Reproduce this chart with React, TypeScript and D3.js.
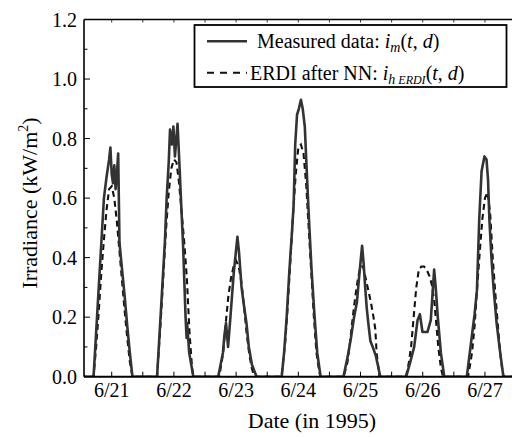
import React from "react";
import * as d3 from "d3";

const days = ["6/21", "6/22", "6/23", "6/24", "6/25", "6/26", "6/27"];
const yTickValues = [0, 0.2, 0.4, 0.6, 0.8, 1.0, 1.2];
const yMinorValues = [0.1, 0.3, 0.5, 0.7, 0.9, 1.1];

// Measured data i_m(t,d): [hour of day, kW/m2] per day
const measured: [number, number][][] = [
  [[0, 0], [5, 0], [6, 0.15], [7, 0.3], [8, 0.45], [9, 0.6], [10, 0.67], [11, 0.73], [11.5, 0.77], [12, 0.68], [12.5, 0.65], [13, 0.71], [13.5, 0.63], [14, 0.68], [14.5, 0.75], [15, 0.45], [16, 0.36], [17, 0.27], [18, 0.17], [19, 0.08], [20, 0], [24, 0]],
  [[5.5, 0], [6.5, 0.15], [7.5, 0.3], [8.5, 0.45], [9.2, 0.6], [10, 0.72], [10.5, 0.83], [11.2, 0.78], [11.8, 0.84], [12.4, 0.74], [13.4, 0.85], [14.2, 0.7], [14.7, 0.6], [15.5, 0.45], [16.1, 0.3], [16.5, 0.2], [16.9, 0.13], [17.1, 0.18], [17.9, 0.08], [19.5, 0], [24, 0]],
  [[5.1, 0], [6, 0.04], [6.9, 0.08], [7.5, 0.14], [8.1, 0.18], [8.9, 0.1], [9.8, 0.2], [11.1, 0.35], [12.5, 0.47], [13.1, 0.42], [14.1, 0.3], [15, 0.24], [16, 0.18], [16.9, 0.1], [18.1, 0.04], [19.9, 0], [24, 0]],
  [[5.6, 0], [6.5, 0.08], [7.5, 0.2], [8.5, 0.35], [9.5, 0.48], [10.2, 0.58], [10.8, 0.78], [11.5, 0.88], [12.2, 0.9], [13, 0.93], [13.7, 0.9], [14.5, 0.84], [15.2, 0.7], [16.1, 0.53], [17.1, 0.36], [18.2, 0.21], [19.3, 0.08], [20.6, 0], [24, 0]],
  [[5.4, 0], [7.1, 0.07], [8.3, 0.13], [9.5, 0.2], [10.6, 0.25], [11.4, 0.33], [12.6, 0.44], [13.2, 0.38], [13.8, 0.3], [14.4, 0.23], [15, 0.18], [15.8, 0.12], [16.7, 0.1], [17.9, 0.07], [18.9, 0.03], [19.6, 0], [24, 0]],
  [[5.6, 0], [7.2, 0.05], [8.7, 0.1], [10, 0.19], [10.9, 0.21], [11.9, 0.15], [13.8, 0.15], [15.1, 0.19], [16.4, 0.36], [17, 0.3], [17.8, 0.2], [19, 0.08], [20.3, 0], [24, 0]],
  [[5, 0], [6, 0.07], [7, 0.14], [8, 0.21], [8.9, 0.29], [9.8, 0.53], [10.7, 0.69], [11.8, 0.74], [12.6, 0.73], [13.2, 0.66], [13.7, 0.53], [14.5, 0.4], [15.3, 0.3], [16.5, 0.18], [17.6, 0.1], [19.1, 0], [24, 0]],
];

// ERDI after NN i_h_ERDI(t,d)
const erdi: [number, number][][] = [
  [[0, 0], [5, 0], [6, 0.1], [7, 0.22], [8, 0.35], [9, 0.46], [10, 0.56], [11, 0.63], [12, 0.64], [13, 0.6], [14, 0.52], [15, 0.42], [16, 0.32], [17, 0.22], [18, 0.13], [19, 0.05], [20, 0], [24, 0]],
  [[5.5, 0], [7, 0.2], [8, 0.35], [9, 0.5], [10, 0.62], [11, 0.7], [12, 0.73], [13, 0.72], [14, 0.65], [15, 0.55], [16, 0.45], [17, 0.33], [18, 0.15], [19, 0.03], [19.5, 0], [24, 0]],
  [[5.5, 0], [7, 0.08], [8, 0.18], [9, 0.27], [10, 0.33], [11, 0.37], [12, 0.39], [13, 0.37], [14, 0.32], [15, 0.24], [16, 0.15], [17, 0.08], [18, 0.03], [19, 0], [24, 0]],
  [[5.5, 0], [7, 0.12], [8, 0.25], [9, 0.4], [10, 0.55], [11, 0.68], [12, 0.77], [13, 0.78], [14, 0.75], [15, 0.65], [16, 0.5], [17, 0.35], [18, 0.2], [19, 0.08], [20, 0.02], [20.5, 0], [24, 0]],
  [[5.5, 0], [7, 0.05], [8, 0.12], [9, 0.2], [10, 0.27], [11, 0.33], [12, 0.37], [13, 0.37], [14, 0.33], [15, 0.29], [16, 0.25], [17, 0.2], [17.7, 0.16], [18.2, 0.08], [19.3, 0], [24, 0]],
  [[5.5, 0], [6.5, 0.04], [7.5, 0.1], [8.5, 0.2], [9.5, 0.3], [10.5, 0.36], [11.5, 0.37], [12.5, 0.37], [13.5, 0.36], [14.5, 0.34], [15.5, 0.31], [16.5, 0.25], [17, 0.2], [18, 0.1], [19, 0.03], [19.8, 0], [24, 0]],
  [[5.5, 0], [7, 0.08], [8, 0.17], [9, 0.3], [10, 0.42], [11, 0.53], [12, 0.6], [13, 0.62], [14, 0.55], [15, 0.4], [16, 0.28], [17, 0.17], [18, 0.07], [18.6, 0.03], [19.2, 0], [24, 0]],
];

const FONT = "'Liberation Serif', 'Times New Roman', serif";

export default function App() {
  const W = 512, H = 437;
  const left = 84, right = 512, top = 19.5, bottom = 376.7;
  const x = d3.scaleLinear().domain([0, 168]).range([80.6, 80.6 + 168 * 2.592]);
  const y = d3.scaleLinear().domain([0, 1.2]).range([bottom, top]);

  const flatten = (series: [number, number][][]) =>
    series.flatMap((day, i) => day.map(([h, v]) => [i * 24 + h, v] as [number, number]));

  const line = d3.line<[number, number]>().x((d) => x(d[0])).y((d) => y(d[1]));
  const mPath = line(flatten(measured)) || "";
  const ePath = line(flatten(erdi)) || "";

  const halfDays = d3.range(0, 169, 12).filter((t) => x(t) > left + 1 && x(t) < right);

  return (
    <svg width={W} height={H} style={{ position: "absolute", left: 0, top: 0, background: "#fff" }} fontFamily={FONT}>
      <defs>
        <clipPath id="plot">
          <rect x={left} y={top - 2} width={right - left} height={bottom - top + 2} />
        </clipPath>
      </defs>

      {/* data lines */}
      <g clipPath="url(#plot)">
        <path d={ePath} fill="none" stroke="#111" strokeWidth={2.1} strokeDasharray="6,4" />
        <path d={mPath} fill="none" stroke="#333" strokeWidth={2.6} strokeLinejoin="round" />
      </g>

      {/* frame */}
      <line x1={left} x2={left} y1={top} y2={bottom} stroke="#000" strokeWidth={1.6} />
      <line x1={left} x2={right} y1={bottom} y2={bottom} stroke="#000" strokeWidth={2} />
      <line x1={left} x2={right} y1={top} y2={top} stroke="#000" strokeWidth={1.6} />

      {/* y ticks */}
      {yTickValues.map((v) => (
        <g key={"y" + v}>
          <line x1={left} x2={left + 6} y1={y(v)} y2={y(v)} stroke="#000" strokeWidth={1} />
          <text x={77} y={y(v)} dy="0.35em" textAnchor="end" fontSize={20}>
            {d3.format(".1f")(v)}
          </text>
        </g>
      ))}
      {yMinorValues.map((v) => (
        <line key={"ym" + v} x1={left} x2={left + 3.5} y1={y(v)} y2={y(v)} stroke="#000" strokeWidth={1} />
      ))}

      {/* x ticks */}
      {halfDays.map((t) => (
        <g key={"x" + t}>
          <line x1={x(t)} x2={x(t)} y1={bottom} y2={bottom - 5} stroke="#000" strokeWidth={1} />
          <line x1={x(t)} x2={x(t)} y1={top} y2={top + 3} stroke="#000" strokeWidth={0.8} />
        </g>
      ))}
      {days.map((d, i) => (
        <text key={d} x={x(i * 24 + 12)} y={397} textAnchor="middle" fontSize={20}>
          {d}
        </text>
      ))}

      {/* axis titles */}
      <text x={312} y={428} textAnchor="middle" fontSize={22}>Date (in 1995)</text>
      <text transform={`translate(37,${203}) rotate(-90)`} textAnchor="middle" fontSize={22}>
        Irradiance (kW/m<tspan dy="-9" fontSize={14}>2</tspan><tspan dy="9">)</tspan>
      </text>

      {/* legend */}
      <rect x={194.5} y={25} width={312} height={62} fill="#fff" stroke="#000" strokeWidth={1.8} />
      <line x1={207} x2={247} y1={41.3} y2={41.3} stroke="#333" strokeWidth={2.6} />
      <line x1={207} x2={247} y1={72.7} y2={72.7} stroke="#111" strokeWidth={2.1} strokeDasharray="7,6" />
      <text x={257} y={48} fontSize={20}>
        Measured data: <tspan fontStyle="italic">i</tspan>
        <tspan fontStyle="italic" fontSize={14} dy="4">m</tspan>
        <tspan dy="-4">(</tspan><tspan fontStyle="italic">t</tspan>, <tspan fontStyle="italic">d</tspan>)
      </text>
      <text x={250} y={79.5} fontSize={20}>
        ERDI after NN: <tspan fontStyle="italic">i</tspan>
        <tspan fontStyle="italic" fontSize={14} dy="4">h</tspan>
        <tspan fontStyle="italic" fontSize={12}> ERDI</tspan>
        <tspan dy="-4">(</tspan><tspan fontStyle="italic">t</tspan>, <tspan fontStyle="italic">d</tspan>)
      </text>
    </svg>
  );
}
